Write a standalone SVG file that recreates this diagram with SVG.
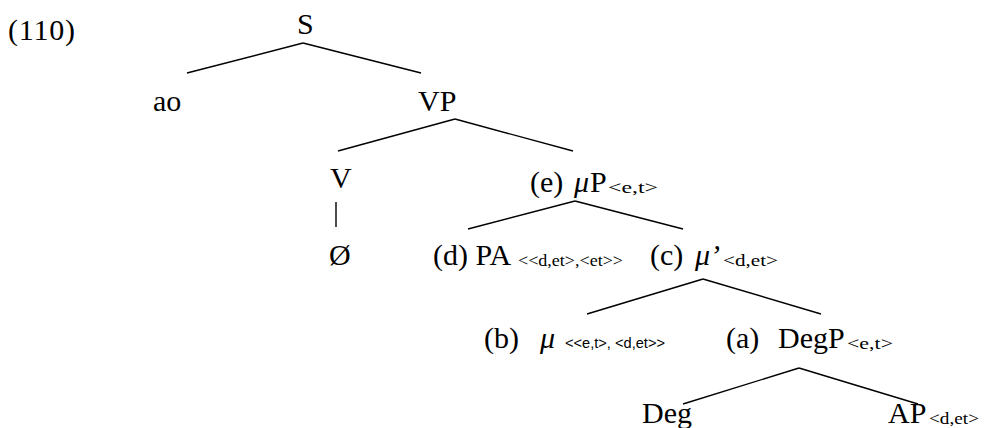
<svg xmlns="http://www.w3.org/2000/svg" width="987" height="428" viewBox="0 0 987 428">
<style>
.t{font-family:"Liberation Serif","Times New Roman",serif;font-size:30px;fill:#000}
.i{font-style:italic}
.s{font-family:"Liberation Serif","Times New Roman",serif;font-size:17px;fill:#000}
.sp{font-family:"Liberation Serif","Times New Roman",serif;font-size:16px;fill:#000}
.ss{font-family:"Liberation Sans",Arial,sans-serif;font-size:15px;fill:#000}
.c line{stroke:#000;stroke-width:1.4}
</style>
<rect width="987" height="428" fill="#fff"/>
<g id="label"><text class="t" x="8" y="40" textLength="67">(110)</text></g>
<g id="n-S"><text class="t" x="297" y="34">S</text></g>
<g id="n-ao"><text class="t" x="153" y="111">ao</text></g>
<g id="n-VP"><text class="t" x="418" y="111">VP</text></g>
<g id="n-V"><text class="t" x="330" y="188">V</text></g>
<g id="n-null"><text class="t" x="329" y="265">Ø</text></g>
<g id="n-muP"><text class="t" x="530" y="192">(e)</text><text class="t i" x="574" y="192">μ</text><text class="t" x="590" y="192">P</text><text class="s" x="608" y="193" textLength="50" lengthAdjust="spacingAndGlyphs">&lt;e,t&gt;</text></g>
<g id="n-PA"><text class="t" x="433" y="265">(d) PA</text><text class="sp" x="518" y="266" textLength="105" lengthAdjust="spacingAndGlyphs">&lt;&lt;d,et&gt;,&lt;et&gt;&gt;</text></g>
<g id="n-muprime"><text class="t" x="650" y="265">(c)</text><text class="t i" x="695" y="265">μ’</text><text class="s" x="723" y="266" textLength="55" lengthAdjust="spacingAndGlyphs">&lt;d,et&gt;</text></g>
<g id="n-mu"><text class="t" x="484" y="348">(b)</text><text class="t i" x="540" y="348">μ</text><text class="ss" x="565" y="348" textLength="100" lengthAdjust="spacingAndGlyphs">&lt;&lt;e,t&gt;, &lt;d,et&gt;&gt;</text></g>
<g id="n-DegP"><text class="t" x="726" y="348">(a)</text><text class="t" x="778" y="348">DegP</text><text class="s" x="847" y="349" textLength="46" lengthAdjust="spacingAndGlyphs">&lt;e,t&gt;</text></g>
<g id="n-Deg"><text class="t" x="642" y="423">Deg</text></g>
<g id="n-AP"><text class="t" x="888" y="423">AP</text><text class="s" x="929" y="424" textLength="50" lengthAdjust="spacingAndGlyphs">&lt;d,et&gt;</text></g>
<g id="connectors" class="c">
<line x1="303" y1="43" x2="187" y2="73"/>
<line x1="303" y1="43" x2="421" y2="73"/>
<line x1="455" y1="119" x2="338" y2="151"/>
<line x1="455" y1="119" x2="573" y2="151"/>
<line x1="336" y1="202" x2="336" y2="227"/>
<line x1="575" y1="201" x2="468" y2="229"/>
<line x1="575" y1="201" x2="683" y2="229"/>
<line x1="703" y1="279" x2="587" y2="314"/>
<line x1="703" y1="279" x2="821" y2="314"/>
<line x1="799" y1="368" x2="683" y2="404"/>
<line x1="799" y1="368" x2="918" y2="404"/>
</g>
</svg>
